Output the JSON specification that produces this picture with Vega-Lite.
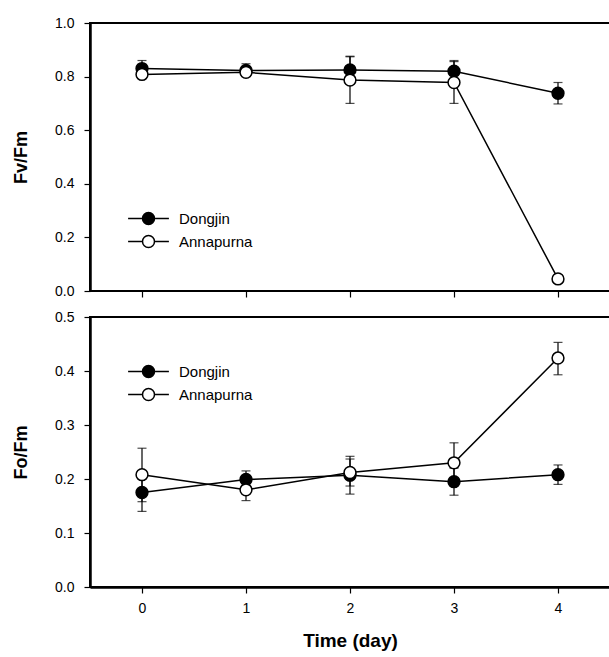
{
  "$schema": "https://vega.github.io/schema/vega-lite/v6.json",
  "padding": {"left": 11, "top": 15, "right": 0, "bottom": 0},
  "config": {
    "font": "Liberation Sans",
    "view": {"stroke": "black", "strokeWidth": 2},
    "concat": {"spacing": 26},
    "axis": {
      "domainColor": "black", "domainWidth": 2.5, "tickColor": "black", "tickWidth": 1.2, "tickSize": 6,
      "labelFont": "Liberation Sans", "labelFontSize": 14, "labelColor": "black", "labelPadding": 10,
      "titleFont": "Liberation Sans", "titleFontSize": 18, "titleFontWeight": "bold", "titleColor": "black",
      "grid": false
    },
    "legend": {
      "labelFont": "Liberation Sans", "labelFontSize": 15, "labelColor": "black",
      "symbolStrokeColor": "black", "symbolStrokeWidth": 1.5, "symbolSize": 144,
      "symbolType": "M-3.4,0H-1M1,0H3.4M-1,0A1,1 0 1 1 1,0A1,1 0 1 1 -1,0Z",
      "labelOffset": 23, "rowPadding": 4, "padding": 0, "title": null
    }
  },
  "bounds": "flush",
  "datasets": {
    "fv": [
      {"day": 0, "series": "Dongjin", "v": 0.83, "lo": 0.80, "hi": 0.86},
      {"day": 1, "series": "Dongjin", "v": 0.823, "lo": 0.80, "hi": 0.848},
      {"day": 2, "series": "Dongjin", "v": 0.825, "lo": 0.775, "hi": 0.876},
      {"day": 3, "series": "Dongjin", "v": 0.82, "lo": 0.78, "hi": 0.86},
      {"day": 4, "series": "Dongjin", "v": 0.738, "lo": 0.698, "hi": 0.778},
      {"day": 0, "series": "Annapurna", "v": 0.808, "lo": 0.795, "hi": 0.82},
      {"day": 1, "series": "Annapurna", "v": 0.816, "lo": 0.805, "hi": 0.83},
      {"day": 2, "series": "Annapurna", "v": 0.787, "lo": 0.70, "hi": 0.874},
      {"day": 3, "series": "Annapurna", "v": 0.778, "lo": 0.70, "hi": 0.856},
      {"day": 4, "series": "Annapurna", "v": 0.045, "lo": 0.035, "hi": 0.055}
    ],
    "fo": [
      {"day": 0, "series": "Dongjin", "v": 0.175, "lo": 0.14, "hi": 0.21},
      {"day": 1, "series": "Dongjin", "v": 0.199, "lo": 0.184, "hi": 0.215},
      {"day": 2, "series": "Dongjin", "v": 0.207, "lo": 0.172, "hi": 0.242},
      {"day": 3, "series": "Dongjin", "v": 0.195, "lo": 0.17, "hi": 0.22},
      {"day": 4, "series": "Dongjin", "v": 0.208, "lo": 0.19, "hi": 0.226},
      {"day": 0, "series": "Annapurna", "v": 0.208, "lo": 0.158, "hi": 0.257},
      {"day": 1, "series": "Annapurna", "v": 0.18, "lo": 0.16, "hi": 0.20},
      {"day": 2, "series": "Annapurna", "v": 0.212, "lo": 0.187, "hi": 0.237},
      {"day": 3, "series": "Annapurna", "v": 0.23, "lo": 0.193, "hi": 0.267},
      {"day": 4, "series": "Annapurna", "v": 0.424, "lo": 0.393, "hi": 0.453}
    ]
  },
  "vconcat": [
    {
      "width": 520, "height": 268,
      "data": {"name": "fv"},
      "encoding": {
        "x": {"field": "day", "type": "quantitative", "scale": {"domain": [-0.5, 4.5], "nice": false, "zero": false},
              "axis": {"values": [0, 1, 2, 3, 4], "labels": false, "title": null, "domain": false}}
      },
      "layer": [
        {"mark": {"type": "rule", "color": "black", "strokeWidth": 1.2},
         "encoding": {"y": {"field": "lo", "type": "quantitative"}, "y2": {"field": "hi"}}},
        {"mark": {"type": "tick", "orient": "horizontal", "color": "black", "size": 9, "thickness": 1.2},
         "encoding": {"y": {"field": "lo", "type": "quantitative"}}},
        {"mark": {"type": "tick", "orient": "horizontal", "color": "black", "size": 9, "thickness": 1.2},
         "encoding": {"y": {"field": "hi", "type": "quantitative"}}},
        {"mark": {"type": "line", "color": "black", "strokeWidth": 1.5},
         "encoding": {"y": {"field": "v", "type": "quantitative"}, "detail": {"field": "series"}}},
        {"mark": {"type": "point", "filled": true, "stroke": "black", "strokeWidth": 1.5, "size": 140, "opacity": 1},
         "encoding": {
           "y": {"field": "v", "type": "quantitative", "scale": {"domain": [0, 1], "nice": false},
                 "axis": {"values": [0, 0.2, 0.4, 0.6, 0.8, 1.0], "format": ".1f", "title": "Fv/Fm", "titlePadding": 24}},
           "fill": {"field": "series", "type": "nominal", "scale": {"domain": ["Dongjin", "Annapurna"], "range": ["black", "white"]},
                    "legend": {"orient": "none", "legendX": 51, "legendY": 188}}
         }}
      ]
    },
    {
      "width": 520, "height": 270,
      "data": {"name": "fo"},
      "encoding": {
        "x": {"field": "day", "type": "quantitative", "scale": {"domain": [-0.5, 4.5], "nice": false, "zero": false},
              "axis": {"values": [0, 1, 2, 3, 4], "title": "Time (day)", "labelPadding": 8, "titlePadding": 16, "titleFontSize": 19}}
      },
      "layer": [
        {"mark": {"type": "rule", "color": "black", "strokeWidth": 1.2},
         "encoding": {"y": {"field": "lo", "type": "quantitative"}, "y2": {"field": "hi"}}},
        {"mark": {"type": "tick", "orient": "horizontal", "color": "black", "size": 9, "thickness": 1.2},
         "encoding": {"y": {"field": "lo", "type": "quantitative"}}},
        {"mark": {"type": "tick", "orient": "horizontal", "color": "black", "size": 9, "thickness": 1.2},
         "encoding": {"y": {"field": "hi", "type": "quantitative"}}},
        {"mark": {"type": "line", "color": "black", "strokeWidth": 1.5},
         "encoding": {"y": {"field": "v", "type": "quantitative"}, "detail": {"field": "series"}}},
        {"mark": {"type": "point", "filled": true, "stroke": "black", "strokeWidth": 1.5, "size": 140, "opacity": 1},
         "encoding": {
           "y": {"field": "v", "type": "quantitative", "scale": {"domain": [0, 0.5], "nice": false},
                 "axis": {"values": [0, 0.1, 0.2, 0.3, 0.4, 0.5], "format": ".1f", "title": "Fo/Fm", "titlePadding": 24}},
           "fill": {"field": "series", "type": "nominal", "scale": {"domain": ["Dongjin", "Annapurna"], "range": ["black", "white"]},
                    "legend": {"orient": "none", "legendX": 51, "legendY": 47}}
         }}
      ]
    }
  ],
  "resolve": {"scale": {"fill": "independent"}, "legend": {"fill": "independent"}}
}
